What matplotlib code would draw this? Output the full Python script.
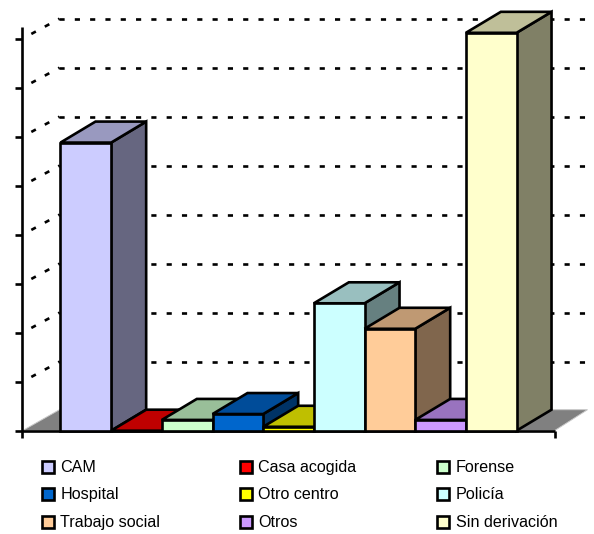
import matplotlib
matplotlib.use("Agg")
import matplotlib.pyplot as plt
from matplotlib.patches import Polygon, Rectangle

categories = ["CAM", "Casa acogida", "Forense", "Hospital", "Otro centro",
              "Policía", "Trabajo social", "Otros", "Sin derivación"]
values = [294, 0, 11, 17, 4, 130, 104, 11, 406]
front_colors = ["#CCCCFF", "#FF0000", "#CCFFCC", "#0066CC", "#FFFF00",
                "#CCFFFF", "#FFCC99", "#CC99FF", "#FFFFCC"]
top_colors = ["#9999BF", "#BF0000", "#99BF99", "#004C99", "#BFBF00",
              "#99BFBF", "#BF9973", "#9973BF", "#BFBF99"]
side_colors = ["#666680", "#800000", "#668066", "#003366", "#808000",
               "#668080", "#80664D", "#664D80", "#808066"]
grid_ticks = [50, 100, 150, 200, 250, 300, 350, 400]

W, H = 594, 534
LW = 1.9

# scale of the picture: pixels for one bar and for one value unit
bar_px = 50.67
unit_px = 0.98
left_px = 60.5
base_px = 430.7

depth_x = 35 / bar_px
depth_y = 21 / unit_px
wall_x = 37 / bar_px
wall_y = 20 / unit_px

n = len(values)
axis_x = -38 / bar_px
floor_end = n + 38 / bar_px
grid_end = n + 71 / bar_px

fig = plt.figure(figsize=(W / 100, H / 100), dpi=100)
ax = fig.add_axes([0, 0, 1, 1])
ax.set_xlim(-left_px / bar_px, (W - left_px) / bar_px)
ax.set_ylim(-(H - base_px) / unit_px, base_px / unit_px)
ax.axis("off")

plt.rcParams["font.family"] = ["Liberation Sans", "DejaVu Sans"]

# gridlines, on the side wall and the back wall
dash = (1.95, 3.85)
for t in grid_ticks:
    ax.plot([axis_x, axis_x + wall_x], [t, t + wall_y], color="black", lw=LW,
            linestyle=(2, dash), dash_capstyle="butt", zorder=1)
    ax.plot([axis_x + wall_x, grid_end], [t + wall_y, t + wall_y], color="black", lw=LW,
            linestyle=(0, dash), dash_capstyle="butt", zorder=1)

# floor
ax.add_patch(Polygon([(axis_x, 0), (floor_end, 0), (grid_end, depth_y), (axis_x + wall_x, depth_y)],
                     closed=True, facecolor="#808080", edgecolor="#C8C8C8", lw=0.7, zorder=2))

# axes
ax.plot([axis_x, axis_x], [-7 / unit_px, 412], color="black", lw=LW, zorder=3, solid_capstyle="butt")
ax.plot([axis_x - 7 / bar_px, floor_end], [0, 0], color="black", lw=LW, zorder=3, solid_capstyle="butt")
ax.plot([floor_end, floor_end], [-7 / unit_px, 0], color="black", lw=LW, zorder=3, solid_capstyle="butt")
for t in grid_ticks:
    ax.plot([axis_x - 7 / bar_px, axis_x], [t, t], color="black", lw=LW, zorder=3, solid_capstyle="butt")

# bars, left to right so each one covers the side of the previous
for i, v in enumerate(values):
    z = 4 + i
    ax.add_patch(Polygon([(i + 1, 0), (i + 1 + depth_x, depth_y), (i + 1 + depth_x, v + depth_y), (i + 1, v)],
                         closed=True, facecolor=side_colors[i], edgecolor="black",
                         lw=LW, joinstyle="miter", zorder=z))
    ax.add_patch(Polygon([(i, v), (i + 1, v), (i + 1 + depth_x, v + depth_y), (i + depth_x, v + depth_y)],
                         closed=True, facecolor=top_colors[i], edgecolor="black",
                         lw=LW, joinstyle="miter", zorder=z))
    ax.add_patch(Rectangle((i, 0), 1, v, facecolor=front_colors[i], edgecolor="black",
                           lw=LW, joinstyle="miter", zorder=z))

# legend, three columns
col_x = [42, 240, 437]
row_y = [467, 494, 522]
for i, name in enumerate(categories):
    x = col_x[i % 3]
    y = row_y[i // 3]
    ax.add_patch(Rectangle((x / W, 1 - (y + 6) / H), 12 / W, 12 / H, transform=ax.transAxes,
                           facecolor=front_colors[i], edgecolor="black", lw=LW, zorder=20))
    ax.text((x + 18.5) / W, 1 - (y + 0.8) / H, name, transform=ax.transAxes, fontsize=11.6,
            va="center", ha="left", color="black", zorder=20)

fig.savefig("out.png", dpi=100)
